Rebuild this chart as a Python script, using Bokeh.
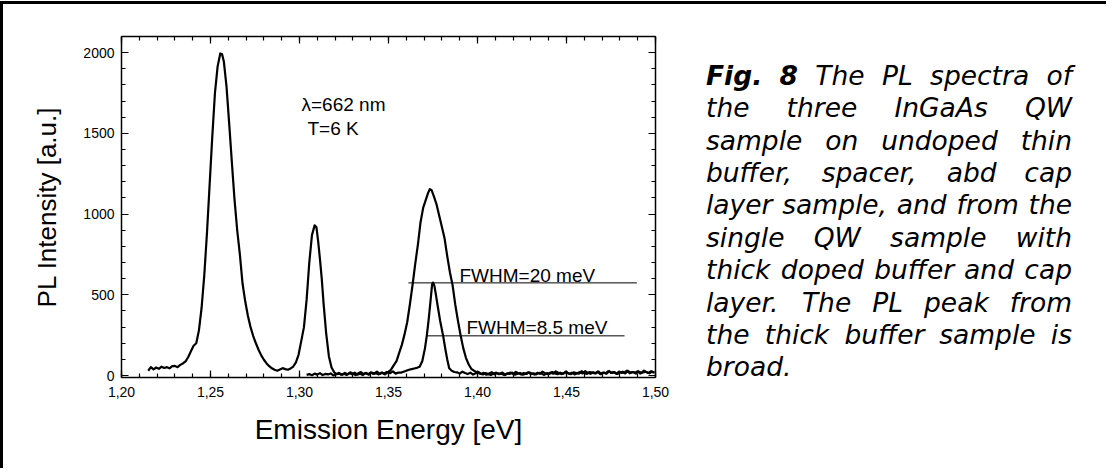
import numpy as np
from bokeh.plotting import figure
from bokeh.layouts import row
from bokeh.models import Range1d, LinearAxis, FixedTicker, CustomJSTickFormatter, Label
from bokeh.embed import file_html
from bokeh.resources import INLINE

# ---------------- axis ticks ----------------
x_ticks = [1.20, 1.25, 1.30, 1.35, 1.40, 1.45, 1.50]
x_tick_labels = ["1,20", "1,25", "1,30", "1,35", "1,40", "1,45", "1,50"]
y_ticks = [0, 500, 1000, 1500, 2000]
y_tick_labels = ["0", "500", "1000", "1500", "2000"]

# ---------------- spectrum of the three-QW sample (thin undoped buffer) ----------------
thin_part1_E = [1.2150, 1.2165, 1.2180, 1.2195, 1.2210, 1.2225, 1.2240, 1.2255, 1.2270, 1.2285,
                1.2300, 1.2315, 1.2330, 1.2345, 1.2360, 1.2375, 1.2390, 1.2405, 1.2420, 1.2435,
                1.2450, 1.2465, 1.2480, 1.2495, 1.2510, 1.2525, 1.2540, 1.2555, 1.2565, 1.2575,
                1.2590, 1.2605, 1.2620, 1.2635, 1.2650, 1.2665, 1.2680, 1.2695, 1.2710, 1.2725,
                1.2740, 1.2755, 1.2770, 1.2785, 1.2800, 1.2815, 1.2830, 1.2845, 1.2860, 1.2875,
                1.2890, 1.2905, 1.2920, 1.2935, 1.2950, 1.2965, 1.2980, 1.2995, 1.3010, 1.3025,
                1.3040, 1.3055, 1.3070, 1.3085, 1.3095, 1.3105, 1.3115, 1.3125, 1.3135, 1.3150,
                1.3165, 1.3180, 1.3195, 1.3210]
thin_part1_I = [30, 52, 38, 50, 42, 55, 47, 52, 45, 58,
                60, 52, 66, 75, 88, 115, 150, 185, 200, 280,
                420, 620, 880, 1180, 1480, 1750, 1915, 1995, 1990, 1945,
                1790, 1560, 1320, 1090, 900, 750, 570, 460, 370, 300,
                245, 200, 160, 125, 98, 75, 58, 45, 36, 30,
                38, 46, 40, 36, 44, 56, 82, 130, 215, 300,
                470, 700, 870, 930, 920, 830, 720, 600, 450, 260,
                120, 50, 20, 8]
thin_noise_mid = [12, 5, 16, 8, 20, 11, 3, 14, 22, 9, 17, 6, 19, 13, 24, 10, 18, 7, 21, 15,
                  26, 12, 18]
thin_part3_E = [1.3570, 1.3585, 1.3600, 1.3615, 1.3630, 1.3645, 1.3660, 1.3675, 1.3690, 1.3705,
                1.3715, 1.3725, 1.3735, 1.3745, 1.3750, 1.3757, 1.3765, 1.3775, 1.3790, 1.3807,
                1.3820, 1.3830, 1.3841, 1.3855, 1.3870]
thin_part3_I = [18, 24, 30, 36, 40, 44, 48, 55, 90, 170,
                246, 340, 450, 565, 576, 560, 510, 440, 340, 246,
                160, 100, 45, 30, 22]
thin_noise_tail = [20, 12, 24, 16, 9, 18, 6, 14, 22, 10, 17, 5, 13, 21, 8, 15, 11, 19, 4, 12,
                   18, 9, 23, 14, 7, 16, 10, 20, 13, 6, 17, 11, 24, 15, 8, 19, 12, 26, 16, 9,
                   14, 21, 10, 18, 7, 15, 22, 13, 28, 17, 11, 20, 14, 25, 9, 18, 12, 27, 16, 21,
                   10, 19, 24, 13, 29, 18, 22, 12, 26, 17, 30, 20, 14, 24, 18]

# ---------------- spectrum of the single QW sample (thick doped buffer) ----------------
thick_noise_low = [4, 9, 2, 12, 6, 15, 3, 10, 7, 13, 1, 8, 16, 5, 11, 4, 14, 9, 18, 6,
                   12, 3, 15, 8, 20, 10, 14, 7, 18, 12, 22]
thick_peak_E = [1.3500, 1.3515, 1.3530, 1.3545, 1.3560, 1.3575, 1.3590, 1.3605, 1.3620, 1.3635,
                1.3650, 1.3665, 1.3680, 1.3695, 1.3710, 1.3722, 1.3732, 1.3742, 1.3755, 1.3770,
                1.3785, 1.3800, 1.3815, 1.3830, 1.3845, 1.3860, 1.3875, 1.3890, 1.3905, 1.3920,
                1.3935, 1.3950, 1.3965, 1.3980, 1.4000]
thick_peak_I = [20, 38, 65, 90, 140, 190, 255, 330, 440, 560,
                690, 810, 950, 1040, 1090, 1130, 1155, 1148, 1110, 1060,
                990, 920, 850, 740, 640, 560, 440, 340, 250, 170,
                110, 70, 42, 30, 18]
thick_noise_tail = [12, 7, 15, 9, 4, 13, 18, 8, 11, 3, 14, 10, 19, 6, 12, 16, 5, 11, 20, 9,
                    14, 7, 17, 12, 4, 15, 10, 22, 13, 8, 18, 11, 25, 14, 9, 20, 16, 12, 27, 15,
                    10, 22, 18, 13, 24, 9, 19, 14, 28, 17, 21, 11, 25, 16, 20, 30, 14, 22, 18, 26,
                    12, 20, 24, 16, 27, 19]

# FWHM marker lines
fwhm_labels = ["FWHM=20 meV", "FWHM=8.5 meV"]
fwhm_level = [574, 246]
fwhm_start = [1.3612, 1.3713]
fwhm_end = [1.4895, 1.4826]

# ---------------- caption ----------------
caption_words = [
    ["Fig.", "8", "The", "PL", "spectra", "of"],
    ["the", "three", "InGaAs", "QW"],
    ["sample", "on", "undoped", "thin"],
    ["buffer,", "spacer,", "abd", "cap"],
    ["layer", "sample,", "and", "from", "the"],
    ["single", "QW", "sample", "with"],
    ["thick", "doped", "buffer", "and", "cap"],
    ["layer.", "The", "PL", "peak", "from"],
    ["the", "thick", "buffer", "sample", "is"],
    ["broad."],
]

STEP = 0.0015


def grid(start, values):
    return [round(start + STEP * i, 4) for i in range(len(values))]


thin_E = thin_part1_E + grid(1.3225, thin_noise_mid) + thin_part3_E + grid(1.3885, thin_noise_tail)
thin_I = thin_part1_I + thin_noise_mid + thin_part3_I + thin_noise_tail
thick_E = grid(1.3040, thick_noise_low) + thick_peak_E + grid(1.4015, thick_noise_tail)
thick_I = thick_noise_low + thick_peak_I + thick_noise_tail

# ---------------- layout (page pixels) ----------------
X0, X1, Y0, Y1 = 1.2, 1.5, -12, 2100
FL, FR, FT, FB = 129, 663, 44, 385          # plot frame on the page
CANVAS_X, CANVAS_Y = 11, 12                 # canvas origin on the page (after border)
H = 464
WP = 689                                    # chart figure width
WC = 1103 - WP                              # caption figure width
BORDER_TOP = FT - CANVAS_Y
BORDER_BOTTOM = H - (FB - CANVAS_Y)


def dx(px):
    return X0 + (px - FL) * (X1 - X0) / (FR - FL)


def dy(py):
    return Y0 + (FB - py) * (Y1 - Y0) / (FB - FT)


p = figure(width=WP, height=H, x_range=Range1d(X0, X1), y_range=Range1d(Y0, Y1),
           output_backend="svg", toolbar_location=None,
           x_axis_location=None, y_axis_location=None,
           min_border_left=FL - CANVAS_X, min_border_right=WP - (FR - CANVAS_X),
           min_border_top=BORDER_TOP, min_border_bottom=BORDER_BOTTOM)
p.grid.visible = False
p.outline_line_color = None
p.background_fill_color = "white"
p.border_fill_color = "white"

TICK_FONT = "Liberation Sans"


def make_axis(ticks, minor, labels, show):
    fmt = CustomJSTickFormatter(args=dict(tv=ticks, tl=labels, show=show), code="""
        if (!show) { return ''; }
        for (let i = 0; i < tv.length; i++) { if (Math.abs(tv[i] - tick) < 1e-6) { return tl[i]; } }
        return '';
    """)
    ax = LinearAxis(ticker=FixedTicker(ticks=ticks, minor_ticks=minor), formatter=fmt)
    ax.axis_line_color = "black"
    ax.axis_line_width = 1.5
    ax.major_tick_line_color = "black"
    ax.minor_tick_line_color = "black"
    ax.major_tick_line_width = 1.2
    ax.minor_tick_line_width = 1.2
    ax.major_tick_in = 7
    ax.major_tick_out = 0
    ax.minor_tick_in = 4
    ax.minor_tick_out = 0
    ax.major_label_text_font = TICK_FONT
    ax.major_label_text_font_size = "14px"
    ax.major_label_text_color = "black"
    return ax


x_minor = [round(1.20 + 0.01 * i, 2) for i in range(31)]
y_minor = list(range(0, 2101, 100))

xb = make_axis(x_ticks, x_minor, x_tick_labels, True)
xb.major_label_standoff = 9
xb.axis_label = "Emission Energy [eV]"
xb.axis_label_text_font = TICK_FONT
xb.axis_label_text_font_size = "28px"
xb.axis_label_text_font_style = "normal"
xb.axis_label_text_color = "black"
xb.axis_label_standoff = 14
xt = make_axis(x_ticks, x_minor, x_tick_labels, False)
yl = make_axis(y_ticks, y_minor, y_tick_labels, True)
yl.major_label_standoff = 7
yl.axis_label = "PL Intensity [a.u.]"
yl.axis_label_text_font = TICK_FONT
yl.axis_label_text_font_size = "26px"
yl.axis_label_text_font_style = "normal"
yl.axis_label_text_color = "black"
yl.axis_label_standoff = 18
yr = make_axis(y_ticks, y_minor, y_tick_labels, False)

p.add_layout(xb, "below")
p.add_layout(xt, "above")
p.add_layout(yl, "left")
p.add_layout(yr, "right")

# spectra
p.line(thin_E, thin_I, line_color="black", line_width=2.2, line_join="round")
p.line(thick_E, thick_I, line_color="black", line_width=2.2, line_join="round")

# FWHM markers
p.segment(x0=fwhm_start, y0=fwhm_level, x1=fwhm_end, y1=fwhm_level, line_color="black", line_width=1)
fwhm_text_px = [(467, 283.3), (474, 335.0)]
for txt, (px, py) in zip(fwhm_labels, fwhm_text_px):
    p.add_layout(Label(x=dx(px), y=dy(py), text=txt, text_font=TICK_FONT, text_font_size="19px",
                       text_color="black", text_baseline="alphabetic", text_align="left"))

# excitation / temperature
for txt, (px, py) in zip(["\u03bb=662 nm", "T=6 K"], [(309, 111.7), (315, 136.0)]):
    p.add_layout(Label(x=dx(px), y=dy(py), text=txt, text_font=TICK_FONT, text_font_size="19px",
                       text_color="black", text_baseline="alphabetic", text_align="left"))

# ---------------- caption figure (coordinates = page pixels) ----------------
cx0 = CANVAS_X + WP
cap = figure(width=WC, height=H, x_range=Range1d(cx0, cx0 + WC),
             y_range=Range1d(FB, FT),
             output_backend="svg", toolbar_location=None,
             x_axis_location=None, y_axis_location=None,
             min_border_left=0, min_border_right=0,
             min_border_top=BORDER_TOP, min_border_bottom=BORDER_BOTTOM)
cap.grid.visible = False
cap.outline_line_color = None
cap.background_fill_color = "white"
cap.border_fill_color = "white"

# DejaVu Sans advance widths (font units, 2048 per em) used to justify the caption block
ADV_REG = {" ": 651, ",": 651, ".": 651, "8": 1303, "A": 1401, "F": 1178, "G": 1595, "I": 604,
           "L": 1141, "P": 1235, "Q": 1612, "T": 1251, "W": 2025, "a": 1255, "b": 1300,
           "c": 1126, "d": 1300, "e": 1260, "f": 721, "g": 1300, "h": 1298, "i": 569,
           "k": 1186, "l": 569, "m": 1995, "n": 1298, "o": 1253, "p": 1300, "r": 842,
           "s": 1067, "t": 803, "u": 1298, "w": 1675, "y": 1212}
ADV_BOLD = {"F": 1399, "i": 702, "g": 1466, ".": 780, "8": 1425}
CAP_FS = 26.5
CAP_L, CAP_R = 713.5, 1079.5


def word_width(word, bold):
    table = ADV_BOLD if bold else ADV_REG
    return sum(table.get(ch, ADV_REG.get(ch, 1200)) for ch in word) * CAP_FS / 2048.0


BASE0, LEAD = 82.7, 32.4
for li, words in enumerate(caption_words):
    py = BASE0 + LEAD * li
    bolds = [(li == 0 and wi < 2) for wi in range(len(words))]
    widths = [word_width(w, b) for w, b in zip(words, bolds)]
    last_line = (li == len(caption_words) - 1)
    if len(words) > 1 and not last_line:
        gap = (CAP_R - CAP_L - sum(widths)) / (len(words) - 1)
    else:
        gap = ADV_REG[" "] * CAP_FS / 2048.0
    xcur = CAP_L
    for wi, (w, b, wd) in enumerate(zip(words, bolds, widths)):
        if wi == len(words) - 1 and len(words) > 1 and not last_line:
            xx, align = CAP_R, "right"
        else:
            xx, align = xcur, "left"
        cap.add_layout(Label(x=xx, y=py, text=w, text_font="DejaVu Sans",
                             text_font_size=f"{CAP_FS}px",
                             text_font_style="bold italic" if b else "italic",
                             text_color="black", text_baseline="alphabetic", text_align=align))
        xcur += wd + gap

layout = row(p, cap, spacing=0,
             styles={"border-left": "3px solid black", "border-top": "3px solid black",
                     "margin-top": "1px"})

open("out.html", "w").write(file_html(layout, INLINE))
